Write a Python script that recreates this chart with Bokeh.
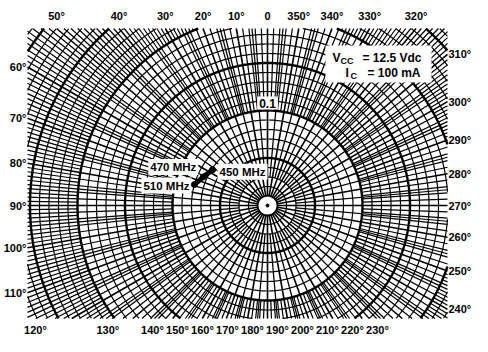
import numpy as np
from bokeh.plotting import figure
from bokeh.models import Range1d
from bokeh.core.properties import value
from bokeh.embed import file_html
from bokeh.resources import INLINE

# ---------------- data ----------------
freq_labels = ["450 MHz", "470 MHz", "510 MHz"]
gamma_mag = [0.069, 0.074, 0.080]      # magnitude
gamma_ang = [57.0, 66.0, 74.0]         # degrees

top_ticks = [50, 40, 30, 20, 10, 0, 350, 340, 330, 320]
left_ticks = [60, 70, 80, 90, 100, 110]
right_ticks = [310, 300, 290, 280, 270, 260, 250, 240]
bottom_ticks = [120, 130, 140, 150, 160, 170, 180, 190, 200, 210, 220, 230]
ring_label = "0.1"
ring_value = 0.1
cond_main = ["V", "I"]
cond_sub = ["CC", "C"]
cond_rest = ["= 12.5 Vdc", "= 100 mA"]

# ---------------- layout ----------------
W, H = 472, 336
PX = 950.0            # pixels per unit of magnitude
CX, CY = 267, 205     # chart centre, canvas pixels from top-left


def px(n):
    return n / PX


L, R, T, B = px(-240), px(180), px(177), px(-113)   # grid clip box
FONT = value("'Liberation Sans', Arial, sans-serif")

p = figure(width=W, height=H,
           x_range=Range1d(px(-CX), px(W - CX)),
           y_range=Range1d(px(CY - H), px(CY)),
           x_axis_type=None, y_axis_type=None,
           output_backend="svg", toolbar_location=None,
           min_border=0, outline_line_color=None,
           background_fill_color="white", border_fill_color="white")


def ray_exit(deg):
    t = np.radians(deg)
    dx, dy = -np.sin(t), np.cos(t)
    ts = []
    if dx < -1e-12:
        ts.append(L / dx)
    if dx > 1e-12:
        ts.append(R / dx)
    if dy > 1e-12:
        ts.append(T / dy)
    if dy < -1e-12:
        ts.append(B / dy)
    return min(ts)


# radial lines
x0, y0, x1, y1, lw = [], [], [], [], []
for d in range(360):
    if d % 10 == 0:
        r0, w = 0.011, 1.6
    elif d % 5 == 0:
        r0, w = 0.03, 1.25
    elif d % 2 == 0:
        r0, w = 0.10, 1.2
    else:
        r0, w = 0.20, 1.2
    r1 = ray_exit(d)
    if r1 <= r0:
        continue
    t = np.radians(d)
    x0.append(-r0 * np.sin(t)); y0.append(r0 * np.cos(t))
    x1.append(-r1 * np.sin(t)); y1.append(r1 * np.cos(t))
    lw.append(w)
p.segment(x0, y0, x1, y1, line_color="black", line_width=lw)

# circles
th = np.linspace(0, 2 * np.pi, 2881)
cxs, cys, cws = [], [], []
for k in range(1, 33):
    r = k * 0.01
    x = -r * np.sin(th)
    y = r * np.cos(th)
    ins = (x >= L) & (x <= R) & (y >= B) & (y <= T)
    idx = np.where(ins)[0]
    if len(idx) == 0:
        continue
    splits = np.where(np.diff(idx) > 1)[0]
    starts = np.concatenate([[0], splits + 1])
    ends = np.concatenate([splits, [len(idx) - 1]])
    for s, e in zip(starts, ends):
        seg = idx[s:e + 1]
        if len(seg) < 2:
            continue
        cxs.append(x[seg].tolist()); cys.append(y[seg].tolist())
        cws.append(2.4 if k % 5 == 0 else 1.2)
p.multi_line(cxs, cys, line_color="black", line_width=cws)

# centre
p.circle([0], [0], radius=0.0105, fill_color="white", line_color="black", line_width=1.8)
p.scatter([0], [0], size=3, color="black")


# edge labels
def deg_text(d):
    return "0" if d == 0 else f"{d}°"


lx, ly, lt, la = [], [], [], []
for d in top_ticks:
    t = np.radians(d)
    s = T / np.cos(t)
    lx.append(-s * np.sin(t)); ly.append(T + px(13)); lt.append(deg_text(d)); la.append("center")
for d in left_ticks:
    t = np.radians(d)
    s = L / (-np.sin(t))
    lx.append(L - px(1)); ly.append(s * np.cos(t)); lt.append(deg_text(d)); la.append("right")
for d in right_ticks:
    t = np.radians(d)
    s = R / (-np.sin(t))
    lx.append(R + px(1)); ly.append(s * np.cos(t)); lt.append(deg_text(d)); la.append("left")
yb_ray = px(-134)
yb = px(-124)
for d in bottom_ticks:
    t = np.radians(d)
    s = yb_ray / np.cos(t)
    xr = -s * np.sin(t)
    xl = px(-15 + 2.5 * (d - 180))
    lx.append(min(xr, xl)); ly.append(yb); lt.append(deg_text(d)); la.append("center")
p.text(lx, ly, text=lt, text_align=la, text_baseline="middle",
       text_font=FONT, text_font_style="bold", text_font_size="11px", text_color="black")

# ring label 0.1
p.text([0], [ring_value], text=[ring_label], text_align="center", text_baseline="bottom",
       y_offset=-1, text_font=FONT, text_font_style="bold", text_font_size="12px",
       text_color="black", background_fill_color="white", padding=2)


# conditions block
def pg(x, y):
    return px(x - CX), px(CY - y)


bl, bt = pg(325, 45)
br, bb = pg(431, 82)
p.quad(left=[bl], right=[br], top=[bt], bottom=[bb], fill_color="white", line_color=None)
ax, ay1 = pg(332, 57)
_, ay2 = pg(332, 72)
rows_y = [ay1, ay2]
main_off = [0, 13]
sub_off = [8, 18]
rest_off = [30, 35]
p.text([ax] * 2, rows_y, text=cond_main, x_offset=main_off, text_baseline="middle",
       text_font=FONT, text_font_style="bold", text_font_size="12px", text_color="black")
p.text([ax] * 2, rows_y, text=cond_sub, x_offset=sub_off, y_offset=3, text_baseline="middle",
       text_font=FONT, text_font_style="bold", text_font_size="9px", text_color="black")
p.text([ax] * 2, rows_y, text=cond_rest, x_offset=rest_off, text_baseline="middle",
       text_font=FONT, text_font_style="bold", text_font_size="12px", text_color="black")

# data points
gx = [-m * np.sin(np.radians(a)) for m, a in zip(gamma_mag, gamma_ang)]
gy = [m * np.cos(np.radians(a)) for m, a in zip(gamma_mag, gamma_ang)]
p.text(gx, gy, text=freq_labels,
       x_offset=[5, -5, -3], y_offset=[2, -10, 1],
       text_align=["left", "right", "right"], text_baseline="middle",
       text_font=FONT, text_font_style="bold", text_font_size="11.5px", text_color="black",
       background_fill_color="white", padding=2)
p.line(gx, gy, line_color="black", line_width=5)
p.scatter(gx, gy, size=6, color="black")

open("out.html", "w").write(file_html(p, INLINE))
